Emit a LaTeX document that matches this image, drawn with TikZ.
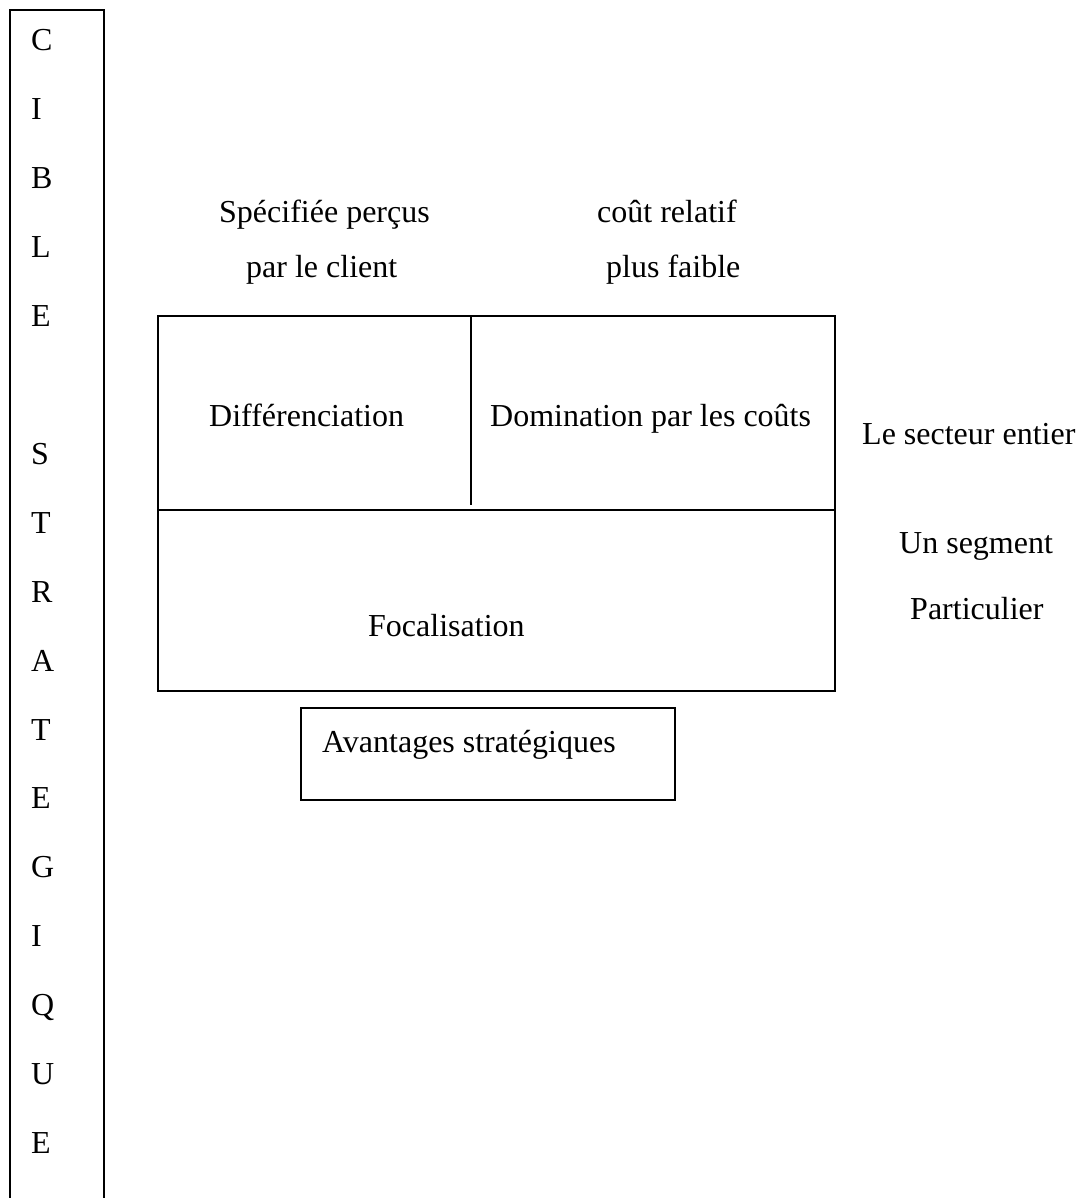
\documentclass[tikz,border=0pt]{standalone}
\usepackage{fontspec}
\setmainfont{Liberation Serif}
\begin{document}
\begin{tikzpicture}[x=1pt,y=-1pt,
  frame/.style={draw=black,line width=2.2pt},
  lbl/.style={anchor=base west,inner sep=0pt,font=\fontsize{32}{38}\selectfont},
  letter/.style={lbl}]
\useasboundingbox[fill=white] (0,0) rectangle (1085,1198);

% vertical "CIBLE STRATEGIQUE" column (open at the bottom)
\coordinate (colBL) at (10,1198);
\coordinate (colTL) at (10,10);
\coordinate (colTR) at (104,10);
\coordinate (colBR) at (104,1198);
\draw[frame,line join=miter] (colBL) -- (colTL) -- (colTR) -- (colBR);
\foreach \ch [count=\i from 0] in {C,I,B,L,E,{},S,T,R,A,T,E,G,I,Q,U,E}
  \node[letter] (let\i) at (31,51+68.9*\i) {\ch};

% column headings
\node[lbl] (spec1) at (219,223) {Spécifiée perçus};
\node[lbl] (spec2) at (246,277) {par le client};
\node[lbl] (cout1) at (597,223) {coût relatif};
\node[lbl] (cout2) at (606,277) {plus faible};

% strategy matrix
\coordinate (mTL) at (158,316);
\coordinate (mBR) at (835,691);
\draw[frame] (mTL) rectangle (mBR);
\coordinate (hL) at (158,510);
\coordinate (hR) at (835,510);
\draw[frame] (hL) -- (hR);
\coordinate (vT) at (471,316);
\coordinate (vB) at (471,505);
\draw[frame] (vT) -- (vB);

\node[lbl] (diff) at (209,426) {Différenciation};
\node[lbl] (dom) at (490,426) {Domination par les coûts};
\node[lbl] (foc) at (368,636) {Focalisation};

% row labels
\node[lbl] (sect) at (862,444) {Le secteur entier};
\node[lbl] (seg1) at (899,553) {Un segment};
\node[lbl] (seg2) at (910,619) {Particulier};

% bottom box
\coordinate (aTL) at (301,708);
\coordinate (aBR) at (675,800);
\draw[frame] (aTL) rectangle (aBR);
\node[lbl] (avant) at (322,752) {Avantages stratégiques};
\end{tikzpicture}
\end{document}
